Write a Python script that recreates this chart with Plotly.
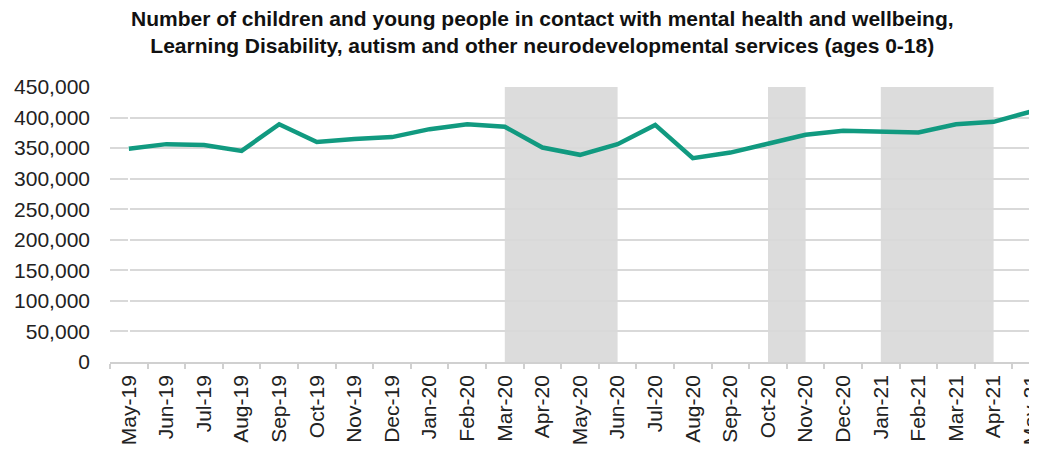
import plotly.graph_objects as go

months = ["May-19", "Jun-19", "Jul-19", "Aug-19", "Sep-19", "Oct-19", "Nov-19", "Dec-19",
          "Jan-20", "Feb-20", "Mar-20", "Apr-20", "May-20", "Jun-20", "Jul-20", "Aug-20",
          "Sep-20", "Oct-20", "Nov-20", "Dec-20", "Jan-21", "Feb-21", "Mar-21", "Apr-21", "May-21"]
contacts = [349000, 356500, 355000, 345500, 389000, 360000, 365000, 368000,
            381000, 389000, 385000, 351000, 339000, 356500, 388000, 333500,
            342700, 356500, 371800, 378300, 376000, 375500, 389000, 393000, 410000]
# shaded periods (start month, end month)
shaded_periods = [("Mar-20", "Jun-20"), ("Oct-20", "Nov-20"), ("Jan-21", "Apr-21")]
y_ticks = [0, 50000, 100000, 150000, 200000, 250000, 300000, 350000, 400000, 450000]
title_text = ("<b>Number of children and young people in contact with mental health and wellbeing,<br>"
              "Learning Disability, autism and other neurodevelopmental services (ages 0-18)</b>")

# page body has an 8px default margin, so the figure is sized/offset to compensate
W, H = 1029, 442
left, top, bottom = 102, 79, 88
cat_w = 37.6
n_visible = (W - left) / cat_w
plot_h = H - top - bottom
plot_w = W - left

fig = go.Figure()
fig.add_trace(go.Scatter(
    x=list(range(len(months))), y=contacts, mode="lines",
    line=dict(color="#119a80", width=4.5), hoverinfo="skip", showlegend=False,
))

for s, e in shaded_periods:
    fig.add_shape(type="rect", xref="x", yref="paper",
                  x0=months.index(s), x1=months.index(e), y0=0, y1=1,
                  fillcolor="#dcdcdc", line=dict(width=0), layer="between")

# title as a centred two-line annotation above the plot
fig.add_annotation(
    text=title_text, xref="paper", yref="paper",
    x=(534.5 - left) / plot_w, y=1 + (top - 24.5) / plot_h,
    xanchor="center", yanchor="middle", align="center", showarrow=False,
    font=dict(size=21, family="Liberation Sans, Arial, sans-serif", color="#111111"),
)

fig.update_layout(
    width=W, height=H,
    margin=dict(l=left, r=0, t=top, b=bottom, autoexpand=False),
    paper_bgcolor="white", plot_bgcolor="white",
    font=dict(family="Liberation Sans, Arial, sans-serif", color="#222222", size=21),
    xaxis=dict(
        tickmode="array", tickvals=list(range(len(months))), ticktext=months,
        range=[-0.5, -0.5 + n_visible], tickangle=-90,
        showgrid=False, showline=True, linecolor="#d0d0d0", linewidth=1.5,
        ticks="", ticklabelstandoff=3, ticklabeloverflow="allow",
        minor=dict(tickmode="linear", tick0=-0.5, dtick=1, ticks="outside",
                   ticklen=5, tickcolor="#d0d0d0", tickwidth=1.5, showgrid=False),
        automargin=False, fixedrange=True,
        tickfont=dict(size=21),
    ),
    yaxis=dict(
        range=[0, 450000], tickvals=y_ticks, tickformat=",",
        showgrid=True, gridcolor="#d9d9d9", gridwidth=1.5,
        zeroline=False, showline=False, ticks="", ticklabelstandoff=19,
        automargin=False, fixedrange=True, tickfont=dict(size=21),
    ),
)

fig.write_html("out.html")
